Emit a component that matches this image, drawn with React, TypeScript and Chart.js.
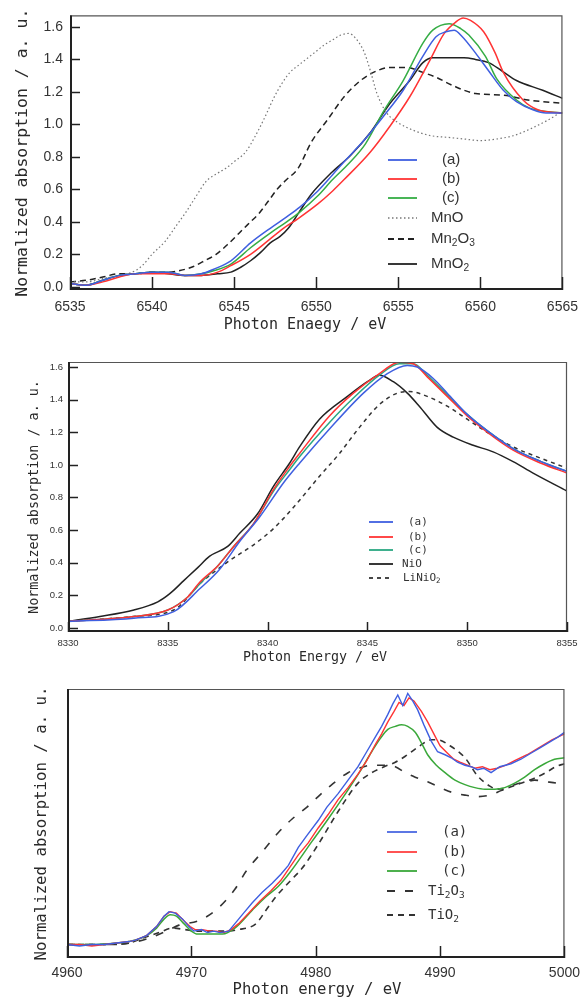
import React, { useEffect, useRef } from "react";
import { Chart, registerables } from "chart.js";
Chart.register(...registerables);

// ---------------- Panel 1 : Mn K-edge ----------------
const mnXTicks = [6535, 6540, 6545, 6550, 6555, 6560, 6565];
const mnYTicks = [0, 0.2, 0.4, 0.6, 0.8, 1.0, 1.2, 1.4, 1.6];

const mnA_E = [6535, 6536, 6537, 6538, 6539, 6540, 6541, 6542, 6543, 6543.8, 6544.8, 6546, 6547.2, 6548.2, 6549, 6550.1, 6551, 6551.7, 6552.9, 6554.1, 6555.3, 6556.5, 6557.3, 6557.9, 6558.4, 6558.9, 6559.7, 6560.5, 6561.4, 6562.2, 6563.2, 6564, 6565];
const mnA_Y = [0.02, 0.01, 0.04, 0.07, 0.08, 0.09, 0.09, 0.07, 0.08, 0.11, 0.16, 0.27, 0.36, 0.43, 0.49, 0.59, 0.69, 0.77, 0.9, 1.05, 1.21, 1.42, 1.54, 1.57, 1.58, 1.54, 1.44, 1.33, 1.21, 1.14, 1.09, 1.07, 1.07];

const mnB_E = [6535, 6536, 6537, 6538, 6539, 6540, 6541, 6542, 6543, 6544, 6544.8, 6546, 6546.9, 6548, 6548.9, 6550.1, 6551, 6551.7, 6553.3, 6554.5, 6555.7, 6556.9, 6557.8, 6558.5, 6558.95, 6559.4, 6560.2, 6560.9, 6561.4, 6562.6, 6563.5, 6565];
const mnB_Y = [0.02, 0.01, 0.03, 0.06, 0.08, 0.08, 0.08, 0.07, 0.07, 0.09, 0.13, 0.2, 0.27, 0.36, 0.42, 0.51, 0.59, 0.66, 0.83, 0.99, 1.17, 1.39, 1.56, 1.63, 1.655, 1.64, 1.57, 1.44, 1.32, 1.15, 1.09, 1.07];

const mnC_E = [6535, 6536, 6537, 6538, 6539, 6540, 6541, 6542, 6543, 6543.8, 6544.8, 6546, 6547.2, 6548.2, 6549, 6550.1, 6551, 6552, 6553, 6554.1, 6555.3, 6556.5, 6557.1, 6558.1, 6558.8, 6559.3, 6560.3, 6561, 6562.2, 6563, 6564, 6565];
const mnC_Y = [0.02, 0.01, 0.04, 0.07, 0.08, 0.09, 0.09, 0.07, 0.08, 0.1, 0.14, 0.24, 0.33, 0.4, 0.46, 0.56, 0.66, 0.76, 0.88, 1.08, 1.27, 1.5, 1.58, 1.62, 1.59, 1.55, 1.42, 1.28, 1.15, 1.1, 1.08, 1.07];

const mnO_E = [6535, 6536, 6537, 6538, 6539, 6539.5, 6540, 6540.8, 6541.5, 6542, 6542.7, 6543.3, 6544, 6544.5, 6545, 6545.7, 6546.3, 6546.9, 6547.4, 6547.9, 6548.4, 6549, 6549.5, 6550, 6550.5, 6551, 6551.5, 6552, 6552.4, 6552.9, 6553.3, 6553.7, 6554.3, 6555, 6556, 6557, 6558, 6559, 6560, 6561, 6562, 6563, 6564, 6565];
const mnO_Y = [0.03, 0.03, 0.05, 0.07, 0.1, 0.14, 0.2, 0.28, 0.38, 0.45, 0.56, 0.65, 0.7, 0.73, 0.77, 0.83, 0.93, 1.05, 1.16, 1.25, 1.32, 1.37, 1.41, 1.45, 1.49, 1.52, 1.55, 1.56, 1.53, 1.45, 1.33, 1.19, 1.07, 1.01, 0.96, 0.93, 0.92, 0.91, 0.9, 0.91, 0.93, 0.97, 1.02, 1.08];

const mn2O3_E = [6535, 6536, 6537, 6538, 6539, 6540, 6541, 6541.7, 6542.4, 6543.2, 6543.9, 6544.6, 6545.3, 6546, 6546.5, 6547.1, 6547.7, 6548.2, 6548.9, 6549.7, 6550.7, 6551.7, 6552.7, 6553.7, 6554.5, 6555.5, 6556.5, 6557.3, 6558.3, 6559.7, 6561.4, 6562.9, 6565];
const mn2O3_Y = [0.03, 0.04, 0.06, 0.08, 0.08, 0.09, 0.09, 0.1, 0.12, 0.16, 0.2, 0.26, 0.33, 0.4, 0.45, 0.53, 0.61, 0.66, 0.73, 0.89, 1.03, 1.17, 1.27, 1.33, 1.35, 1.35, 1.32, 1.29, 1.24, 1.19, 1.18, 1.15, 1.13];

const mnO2_E = [6535, 6536, 6537, 6538, 6539, 6540, 6541, 6542, 6543, 6544, 6544.8, 6545.4, 6546, 6546.6, 6547.2, 6547.8, 6548.3, 6548.9, 6549.7, 6550.9, 6552.1, 6553.3, 6554.5, 6555.7, 6556.5, 6557.1, 6558, 6559, 6559.7, 6560.5, 6561.3, 6562.2, 6563.8, 6565];
const mnO2_Y = [0.02, 0.01, 0.04, 0.07, 0.08, 0.09, 0.08, 0.07, 0.07, 0.08, 0.09, 0.12, 0.16, 0.21, 0.27, 0.31, 0.36, 0.45, 0.57, 0.7, 0.81, 0.95, 1.13, 1.27, 1.38, 1.41, 1.41, 1.41, 1.4, 1.38, 1.33, 1.27, 1.21, 1.16];

// ---------------- Panel 2 : Ni K-edge ----------------
const niXTicks = [8330, 8335, 8340, 8345, 8350, 8355];
const niYTicks = [0, 0.2, 0.4, 0.6, 0.8, 1.0, 1.2, 1.4, 1.6];

const niA_E = [8330, 8333.3, 8335.3, 8336.6, 8337.6, 8338.6, 8339.6, 8340.8, 8341.6, 8343.1, 8344.8, 8346, 8347, 8347.5, 8348.3, 8349, 8350, 8351, 8352.3, 8353.7, 8355];
const niA_Y = [0.04, 0.06, 0.1, 0.24, 0.36, 0.53, 0.68, 0.89, 1.01, 1.22, 1.44, 1.56, 1.61, 1.6, 1.53, 1.44, 1.31, 1.21, 1.1, 1.02, 0.96];

const niB_E = [8330, 8333.3, 8335, 8336, 8336.6, 8337.5, 8338.3, 8339.3, 8340.3, 8341.1, 8341.6, 8343.1, 8344.3, 8345.6, 8346.6, 8347.3, 8348, 8349, 8350, 8351, 8352.3, 8353.7, 8355];
const niB_Y = [0.04, 0.07, 0.11, 0.19, 0.28, 0.38, 0.5, 0.64, 0.85, 0.99, 1.07, 1.3, 1.44, 1.56, 1.63, 1.62, 1.54, 1.42, 1.3, 1.2, 1.09, 1.01, 0.95];

const niC_E = [8330, 8333.3, 8335, 8336, 8336.6, 8337.5, 8338.3, 8339.3, 8340.3, 8341.1, 8341.6, 8343.1, 8344.3, 8345.6, 8346.6, 8347.3, 8348, 8349, 8350, 8351, 8352.3, 8353.7, 8355];
const niC_Y = [0.04, 0.07, 0.11, 0.19, 0.27, 0.38, 0.5, 0.64, 0.84, 0.97, 1.05, 1.26, 1.41, 1.55, 1.62, 1.62, 1.55, 1.43, 1.31, 1.21, 1.1, 1.02, 0.96];

const niO_E = [8330, 8331.6, 8333.3, 8334.5, 8335.1, 8335.8, 8336.5, 8337.1, 8338, 8338.6, 8339.5, 8340.3, 8341.1, 8341.6, 8342.6, 8344, 8345, 8345.6, 8346.3, 8347, 8347.6, 8348.5, 8349.3, 8350.3, 8351.3, 8352.3, 8353.3, 8355];
const niO_Y = [0.04, 0.07, 0.11, 0.16, 0.21, 0.29, 0.37, 0.44, 0.5, 0.58, 0.7, 0.87, 1.01, 1.11, 1.28, 1.42, 1.51, 1.55, 1.51, 1.44, 1.36, 1.23, 1.17, 1.12, 1.08, 1.02, 0.95, 0.84];

const liNiO2_E = [8330, 8333.3, 8335.3, 8336.6, 8337.5, 8338.3, 8339.3, 8340.3, 8341.3, 8342.6, 8343.6, 8344.6, 8345.6, 8346.5, 8347.1, 8348, 8349, 8350, 8351, 8352.3, 8353.7, 8355];
const liNiO2_Y = [0.04, 0.07, 0.11, 0.27, 0.36, 0.43, 0.51, 0.61, 0.74, 0.93, 1.07, 1.23, 1.37, 1.44, 1.45, 1.42, 1.36, 1.28, 1.2, 1.11, 1.04, 0.98];

// ---------------- Panel 3 : Ti K-edge ----------------
const tiXTicks = [4960, 4970, 4980, 4990, 5000];

const tiA_E = [4960, 4961, 4962, 4963, 4964, 4965, 4965.5, 4966.4, 4967.2, 4967.8, 4968.2, 4968.7, 4969.3, 4969.8, 4970.2, 4970.8, 4971.3, 4971.8, 4972.3, 4973, 4973.5, 4974.2, 4974.9, 4975.7, 4976.5, 4977.2, 4977.8, 4978.6, 4979.3, 4980.2, 4980.9, 4981.8, 4982.6, 4983.4, 4984.1, 4984.8, 4985.3, 4985.8, 4986.2, 4986.6, 4987, 4987.4, 4987.8, 4988.2, 4988.7, 4989.3, 4989.8, 4990.4, 4990.9, 4991.4, 4992, 4992.5, 4993, 4993.5, 4994.1, 4994.8, 4995.7, 4996.5, 4997.3, 4998.1, 4998.9, 4999.5, 5000];
const tiA_Y = [0.09, 0.08, 0.09, 0.09, 0.1, 0.11, 0.12, 0.15, 0.21, 0.28, 0.31, 0.3, 0.26, 0.21, 0.18, 0.19, 0.17, 0.18, 0.17, 0.18, 0.23, 0.3, 0.37, 0.44, 0.5, 0.56, 0.62, 0.74, 0.82, 0.92, 1.01, 1.1, 1.19, 1.28, 1.38, 1.48, 1.55, 1.63, 1.7, 1.76, 1.69, 1.77, 1.72, 1.66, 1.56, 1.45, 1.38, 1.36, 1.34, 1.31, 1.29, 1.28, 1.26, 1.27, 1.24, 1.28, 1.3, 1.33, 1.37, 1.41, 1.45, 1.48, 1.51];

const tiB_E = [4960, 4961, 4962, 4963, 4964, 4965, 4965.5, 4966.4, 4967.2, 4967.8, 4968.3, 4968.8, 4969.4, 4969.9, 4970.3, 4970.9, 4971.5, 4972, 4972.6, 4973.2, 4973.8, 4974.6, 4975.5, 4976.4, 4977.2, 4978.6, 4979.4, 4980.2, 4981, 4981.8, 4982.6, 4983.4, 4984.1, 4984.8, 4985.3, 4985.8, 4986.3, 4986.7, 4987.1, 4987.5, 4987.9, 4988.5, 4989, 4989.5, 4990, 4990.6, 4991.1, 4991.6, 4992.2, 4992.8, 4993.4, 4994, 4994.6, 4995.3, 4996, 4997, 4998, 4999, 5000];
const tiB_Y = [0.09, 0.09, 0.08, 0.09, 0.1, 0.11, 0.12, 0.15, 0.21, 0.28, 0.31, 0.3, 0.25, 0.21, 0.19, 0.19, 0.18, 0.18, 0.17, 0.19, 0.23, 0.3, 0.38, 0.45, 0.52, 0.69, 0.77, 0.87, 0.96, 1.06, 1.14, 1.23, 1.32, 1.43, 1.5, 1.58, 1.65, 1.71, 1.69, 1.74, 1.72, 1.65, 1.58, 1.5, 1.42, 1.37, 1.33, 1.31, 1.29, 1.27, 1.28, 1.26, 1.27, 1.29, 1.32, 1.36, 1.41, 1.46, 1.5];

const tiC_E = [4960, 4962, 4964, 4965, 4966.4, 4967.2, 4967.8, 4968.3, 4968.8, 4969.4, 4970, 4970.5, 4971.5, 4972.5, 4973.5, 4974.9, 4976, 4977, 4978, 4979.7, 4981, 4982.4, 4983.5, 4984.5, 4985.2, 4985.8, 4986.4, 4986.9, 4987.4, 4988, 4988.5, 4989, 4989.7, 4990.4, 4991.2, 4992, 4992.8, 4993.6, 4994.4, 4995.2, 4996, 4996.8, 4997.6, 4998.4, 4999.2, 5000];
const tiC_Y = [0.09, 0.09, 0.1, 0.11, 0.15, 0.2, 0.26, 0.29, 0.28, 0.23, 0.18, 0.16, 0.16, 0.16, 0.2, 0.32, 0.41, 0.48, 0.58, 0.78, 0.93, 1.1, 1.24, 1.38, 1.47, 1.53, 1.55, 1.56, 1.55, 1.51, 1.44, 1.36, 1.29, 1.24, 1.19, 1.16, 1.14, 1.13, 1.13, 1.14, 1.17, 1.21, 1.26, 1.3, 1.33, 1.34];

const ti2O3_E = [4960, 4963, 4965, 4966.5, 4968, 4969, 4970.6, 4972.1, 4973.5, 4974.4, 4975.7, 4977, 4978.1, 4979.3, 4980.2, 4981, 4982.6, 4983.5, 4984.5, 4985.5, 4986.4, 4987.2, 4988, 4989, 4990, 4990.9, 4992, 4993, 4994, 4994.9, 4996, 4997, 4997.6, 4998.5, 4999.4, 5000];
const ti2O3_Y = [0.09, 0.09, 0.1, 0.13, 0.18, 0.22, 0.25, 0.33, 0.46, 0.58, 0.71, 0.84, 0.93, 1.01, 1.08, 1.14, 1.24, 1.27, 1.29, 1.29, 1.28, 1.24, 1.21, 1.18, 1.14, 1.11, 1.09, 1.08, 1.09, 1.12, 1.16, 1.18, 1.19, 1.18, 1.17, 1.16];

const tiO2_E = [4960, 4963, 4965, 4966, 4967.4, 4968.5, 4969.5, 4970.5, 4971.5, 4972.5, 4973.8, 4975.2, 4976, 4976.8, 4978, 4978.9, 4980.2, 4981.8, 4983.4, 4984.5, 4985.5, 4986.4, 4987.2, 4988.2, 4989.3, 4989.8, 4990.8, 4992, 4993, 4994, 4994.6, 4995.5, 4996.5, 4997.5, 4998.5, 4999.3, 5000];
const tiO2_Y = [0.09, 0.09, 0.1, 0.13, 0.17, 0.2, 0.19, 0.18, 0.18, 0.18, 0.19, 0.23, 0.32, 0.41, 0.52, 0.6, 0.76, 0.98, 1.17, 1.24, 1.28, 1.31, 1.35, 1.41, 1.46, 1.46, 1.42, 1.34, 1.22, 1.15, 1.13, 1.14, 1.17, 1.2, 1.24, 1.28, 1.3];

// ---------------- styling ----------------
const TICK_FONT = "'Liberation Sans', Arial, sans-serif";
const MONO_FONT = "'DejaVu Sans Mono', 'Liberation Mono', monospace";
const INK = "#2a2a2a";

type Series = {
  label: string;
  xs: number[];
  ys: number[];
  color: string;
  dash: number[];
  width: number;
  smooth: boolean;
};

type LegendCfg = {
  x1: number;
  x2: number;
  ys: number[];
  textX: number[];
  size: number;
  family: string;
};

type PanelCfg = {
  top: number;
  height: number;
  padTop: number;
  yWidth: number;
  xHeight: number;
  xMin: number;
  xMax: number;
  yMin: number;
  yMax: number;
  xTicks: number[];
  yTicks: number[] | null;
  tickSize: number;
  xTickPad: number;
  yTickPad: number;
  xTitle: string;
  xTitleSize: number;
  xTitleX: number;
  xTitleY: number;
  yTitle: string;
  yTitleSize: number;
  yTitlePad: number;
  xTickLen: number;
  yTickLen: number;
  series: Series[];
  legend: LegendCfg;
};

const BLUE = "#3f5fe0";
const RED = "#ff3434";
const GREEN = "#35ad45";

function drawRich(ctx: CanvasRenderingContext2D, text: string, x: number, y: number, size: number, family: string) {
  const parts = text.split(/(_\d+)/).filter((p) => p.length > 0);
  let cx = x;
  for (const p of parts) {
    if (p.startsWith("_")) {
      ctx.font = `${size * 0.68}px ${family}`;
      const t = p.slice(1);
      ctx.fillText(t, cx, y + size * 0.3);
      cx += ctx.measureText(t).width;
    } else {
      ctx.font = `${size}px ${family}`;
      ctx.fillText(p, cx, y);
      cx += ctx.measureText(p).width;
    }
  }
}

function makeDecor(cfg: PanelCfg) {
  return {
    id: "decor",
    afterDatasetsDraw(chart: any) {
      const { ctx, chartArea } = chart;
      const { left, right, top, bottom } = chartArea;
      ctx.save();
      // frame
      ctx.strokeStyle = "#555";
      ctx.lineWidth = 1.2;
      ctx.beginPath();
      ctx.moveTo(left, top + 0.5);
      ctx.lineTo(right - 0.5, top + 0.5);
      ctx.lineTo(right - 0.5, bottom);
      ctx.stroke();
      ctx.strokeStyle = "#222";
      ctx.lineWidth = 2;
      ctx.beginPath();
      ctx.moveTo(left + 1, top);
      ctx.lineTo(left + 1, bottom - 1);
      ctx.lineTo(right, bottom - 1);
      ctx.stroke();
      // inward ticks
      ctx.lineWidth = 1.5;
      const xs = chart.scales.x;
      for (const t of xs.ticks) {
        const px = Math.round(xs.getPixelForValue(t.value)) + 0.5;
        ctx.beginPath();
        ctx.moveTo(px, bottom);
        ctx.lineTo(px, bottom - cfg.xTickLen);
        ctx.stroke();
      }
      if (cfg.yTicks) {
        const ys = chart.scales.y;
        for (const t of ys.ticks) {
          const py = Math.round(ys.getPixelForValue(t.value)) + 0.5;
          ctx.beginPath();
          ctx.moveTo(left, py);
          ctx.lineTo(left + cfg.yTickLen, py);
          ctx.stroke();
        }
      }
      // x axis title
      ctx.fillStyle = INK;
      ctx.font = `${cfg.xTitleSize}px ${MONO_FONT}`;
      ctx.textAlign = "center";
      ctx.textBaseline = "middle";
      ctx.fillText(cfg.xTitle, cfg.xTitleX, cfg.xTitleY);
      // legend
      const lg = cfg.legend;
      cfg.series.forEach((s, i) => {
        const y = lg.ys[i];
        ctx.strokeStyle = s.color;
        ctx.lineWidth = s.width + 0.3;
        ctx.setLineDash(s.dash);
        ctx.beginPath();
        ctx.moveTo(lg.x1, y);
        ctx.lineTo(lg.x2, y);
        ctx.stroke();
        ctx.setLineDash([]);
        ctx.fillStyle = "#333";
        ctx.textBaseline = "middle";
        ctx.textAlign = "left";
        drawRich(ctx, s.label, lg.textX[i], y, lg.size, lg.family);
      });
      ctx.restore();
    },
  };
}

function Panel({ cfg }: { cfg: PanelCfg }) {
  const ref = useRef<HTMLCanvasElement>(null);
  useEffect(() => {
    const canvas = ref.current;
    if (!canvas) return;
    const chart = new Chart(canvas, {
      type: "line",
      data: {
        datasets: cfg.series.map((s) => ({
          label: s.label,
          data: s.xs.map((x, i) => ({ x, y: s.ys[i] })),
          borderColor: s.color,
          borderWidth: s.width,
          borderDash: s.dash,
          pointRadius: 0,
          fill: false,
          cubicInterpolationMode: s.smooth ? "monotone" : "default",
          tension: 0,
        })),
      },
      options: {
        responsive: false,
        animation: false,
        devicePixelRatio: 1,
        events: [],
        layout: { padding: { top: cfg.padTop, right: 20, left: 0, bottom: 0 } },
        plugins: { legend: { display: false }, tooltip: { enabled: false } },
        scales: {
          x: {
            type: "linear",
            min: cfg.xMin,
            max: cfg.xMax,
            afterBuildTicks: (scale: any) => {
              scale.ticks = cfg.xTicks.map((v) => ({ value: v }));
            },
            afterFit: (scale: any) => {
              scale.height = cfg.xHeight;
            },
            ticks: {
              autoSkip: false,
              maxRotation: 0,
              padding: cfg.xTickPad,
              color: "#333",
              font: { family: TICK_FONT, size: cfg.tickSize },
              callback: (v: any) => String(v),
            },
            grid: { display: false, drawTicks: false },
            border: { display: false },
            title: { display: false },
          },
          y: {
            type: "linear",
            min: cfg.yMin,
            max: cfg.yMax,
            afterBuildTicks: (scale: any) => {
              scale.ticks = (cfg.yTicks || []).map((v) => ({ value: v }));
            },
            afterFit: (scale: any) => {
              scale.width = cfg.yWidth;
            },
            ticks: {
              display: !!cfg.yTicks,
              autoSkip: false,
              padding: cfg.yTickPad,
              color: "#333",
              font: { family: TICK_FONT, size: cfg.tickSize },
              callback: (v: any) => Number(v).toFixed(1),
            },
            grid: { display: false, drawTicks: false },
            border: { display: false },
            title: {
              display: true,
              text: cfg.yTitle,
              color: INK,
              font: { family: MONO_FONT, size: cfg.yTitleSize },
              padding: { top: cfg.yTitlePad, bottom: 0 },
            },
          },
        },
      } as any,
      plugins: [makeDecor(cfg)],
    });
    return () => chart.destroy();
  }, [cfg]);
  return (
    <canvas
      ref={ref}
      width={587}
      height={cfg.height}
      style={{ position: "absolute", left: 0, top: cfg.top, width: 587, height: cfg.height }}
    />
  );
}

const panel1: PanelCfg = {
  top: 0,
  height: 340,
  padTop: 11,
  yWidth: 70,
  xHeight: 50,
  xMin: 6535,
  xMax: 6565,
  yMin: -0.02,
  yMax: 1.671,
  xTicks: mnXTicks,
  yTicks: mnYTicks,
  tickSize: 14,
  xTickPad: 9,
  yTickPad: 7,
  xTitle: "Photon Enaegy / eV",
  xTitleSize: 15,
  xTitleX: 305,
  xTitleY: 325,
  yTitle: "Normalized absorption / a. u.",
  yTitleSize: 16.5,
  yTitlePad: 13,
  xTickLen: 13,
  yTickLen: 10,
  series: [
    { label: "(a)", xs: mnA_E, ys: mnA_Y, color: BLUE, dash: [], width: 1.5, smooth: true },
    { label: "(b)", xs: mnB_E, ys: mnB_Y, color: RED, dash: [], width: 1.5, smooth: true },
    { label: "(c)", xs: mnC_E, ys: mnC_Y, color: GREEN, dash: [], width: 1.5, smooth: true },
    { label: "MnO", xs: mnO_E, ys: mnO_Y, color: "#777", dash: [1.5, 2.5], width: 1.2, smooth: true },
    { label: "Mn_2O_3", xs: mn2O3_E, ys: mn2O3_Y, color: "#222", dash: [6, 4], width: 1.5, smooth: true },
    { label: "MnO_2", xs: mnO2_E, ys: mnO2_Y, color: "#222", dash: [], width: 1.5, smooth: true },
  ],
  legend: {
    x1: 388,
    x2: 417,
    ys: [160, 179, 198, 218, 239, 264],
    textX: [442, 442, 442, 431, 431, 431],
    size: 15,
    family: TICK_FONT,
  },
};

const panel2: PanelCfg = {
  top: 340,
  height: 330,
  padTop: 22,
  yWidth: 68,
  xHeight: 38,
  xMin: 8330,
  xMax: 8355,
  yMin: -0.025,
  yMax: 1.631,
  xTicks: niXTicks,
  yTicks: niYTicks,
  tickSize: 9.5,
  xTickPad: 6,
  yTickPad: 5,
  xTitle: "Photon Energy / eV",
  xTitleSize: 13.3,
  xTitleX: 315,
  xTitleY: 318,
  yTitle: "Normalized absorption / a. u.",
  yTitleSize: 13.4,
  yTitlePad: 26,
  xTickLen: 10,
  yTickLen: 10,
  series: [
    { label: "(a)", xs: niA_E, ys: niA_Y, color: BLUE, dash: [], width: 1.5, smooth: true },
    { label: "(b)", xs: niB_E, ys: niB_Y, color: RED, dash: [], width: 1.5, smooth: true },
    { label: "(c)", xs: niC_E, ys: niC_Y, color: "#2aa882", dash: [], width: 1.5, smooth: true },
    { label: "NiO", xs: niO_E, ys: niO_Y, color: "#222", dash: [], width: 1.5, smooth: true },
    { label: "LiNiO_2", xs: liNiO2_E, ys: liNiO2_Y, color: "#333", dash: [4, 4], width: 1.5, smooth: true },
  ],
  legend: {
    x1: 369,
    x2: 393,
    ys: [182, 197, 210, 224, 238],
    textX: [408, 408, 408, 402, 403],
    size: 11,
    family: MONO_FONT,
  },
};

const panel3: PanelCfg = {
  top: 670,
  height: 330,
  padTop: 19,
  yWidth: 67,
  xHeight: 42,
  xMin: 4960,
  xMax: 5000,
  yMin: 0,
  yMax: 1.8,
  xTicks: tiXTicks,
  yTicks: null,
  tickSize: 14,
  xTickPad: 7,
  yTickPad: 5,
  xTitle: "Photon energy / eV",
  xTitleSize: 15.6,
  xTitleX: 317,
  xTitleY: 320,
  yTitle: "Normalized absorption / a. u.",
  yTitleSize: 15.7,
  yTitlePad: 33,
  xTickLen: 12,
  yTickLen: 0,
  series: [
    { label: "(a)", xs: tiA_E, ys: tiA_Y, color: BLUE, dash: [], width: 1.4, smooth: false },
    { label: "(b)", xs: tiB_E, ys: tiB_Y, color: RED, dash: [], width: 1.4, smooth: false },
    { label: "(c)", xs: tiC_E, ys: tiC_Y, color: "#3aa83a", dash: [], width: 1.5, smooth: true },
    { label: "Ti_2O_3", xs: ti2O3_E, ys: ti2O3_Y, color: "#333", dash: [8, 10], width: 1.6, smooth: true },
    { label: "TiO_2", xs: tiO2_E, ys: tiO2_Y, color: "#333", dash: [6, 5], width: 1.6, smooth: true },
  ],
  legend: {
    x1: 387,
    x2: 417,
    ys: [162, 182, 201, 221, 245],
    textX: [442, 442, 442, 428, 428],
    size: 14,
    family: MONO_FONT,
  },
};

export default function App() {
  return (
    <div style={{ position: "absolute", left: 0, top: 0, width: 587, height: 1000, background: "#fff" }}>
      <Panel cfg={panel1} />
      <Panel cfg={panel2} />
      <Panel cfg={panel3} />
    </div>
  );
}
